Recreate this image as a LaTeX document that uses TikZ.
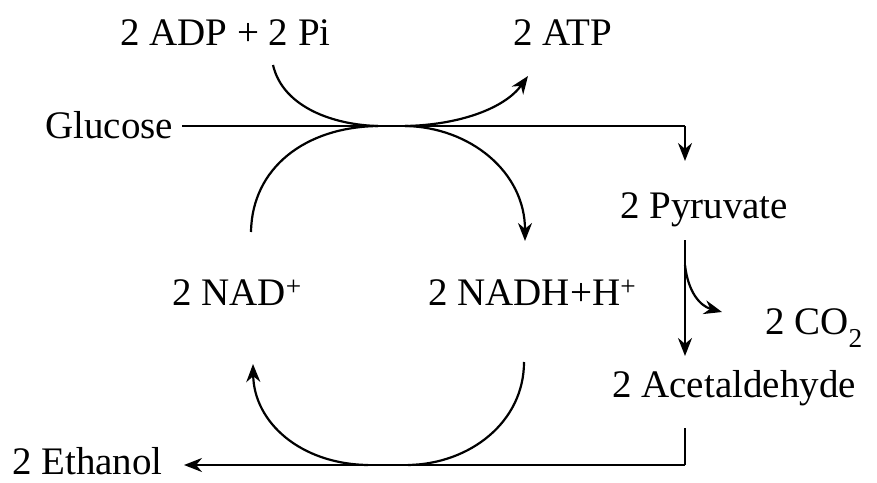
\documentclass[tikz,border=0pt]{standalone}
\usepackage{fontspec}
\setmainfont{Liberation Serif}
\usetikzlibrary{arrows.meta}
\begin{document}
\begin{tikzpicture}[x=1pt,y=-1pt,
  lbl/.style={anchor=base west,inner sep=0pt,font=\fontsize{39}{42}\selectfont},
  ln/.style={line width=2.2pt},
  arr/.style={ln,-{Stealth[length=18pt,width=14pt]}}]
\useasboundingbox (0,0) rectangle (877,482);
% labels
\node[lbl] (adp) at (120,45) {2 ADP + 2 Pi};
\node[lbl] (atp) at (513,45) {2 ATP};
\node[lbl] (glu) at (45,138) {Glucose};
\node[lbl] (pyr) at (620,218) {2 Pyruvate};
\node[lbl] (nad) at (172,305) {2 NAD\textsuperscript{+}};
\node[lbl] (nadh) at (428,305) {2 NADH+H\textsuperscript{+}};
\node[lbl] (co2) at (765,334) {2 CO\raisebox{-4pt}{\textsubscript{2}}};
\node[lbl] (acet) at (612,397) {2 Acetaldehyde};
\node[lbl] (eth) at (12,474) {2 Ethanol};
% coordinates
\coordinate (gstart) at (182,126);
\coordinate (gcorner) at (685,126);
\coordinate (gend) at (685,161);
\coordinate (pstart) at (685,240);
\coordinate (pend) at (685,356);
\coordinate (cstart) at (685,265);
\coordinate (cend) at (722,312);
\coordinate (astart) at (685,428);
\coordinate (acorner) at (685,465);
\coordinate (eend) at (184,465);
\coordinate (t1) at (378,126);
\coordinate (t2) at (405,126);
\coordinate (adps) at (273,65);
\coordinate (atpe) at (528,76);
\coordinate (nadu) at (251,232);
\coordinate (nadhd) at (525,241);
\coordinate (b1) at (368,465);
\coordinate (b2) at (408,465);
\coordinate (nadhu) at (524,362);
\coordinate (nade) at (253,364);
% main line
\draw[ln] (gstart) -- (gcorner);
\draw[arr] (gcorner) -- (gend);
\draw[arr] (pstart) -- (pend);
\draw[arr] (cstart) .. controls (688,292) and (700,306) .. (cend);
\draw[ln] (astart) -- (acorner);
\draw[arr] (acorner) -- (eend);
% ATP crossing
\draw[ln] (adps) .. controls (283,108) and (335,125) .. (t1);
\draw[arr] (t2) .. controls (460,125) and (505,108) .. (atpe);
% NAD crossing top
\draw[ln] (nadu) .. controls (252,168) and (305,127) .. (t1);
\draw[arr] (t2) .. controls (470,127) and (525,172) .. (nadhd);
% bottom
\draw[ln] (nadhu) .. controls (524,422) and (470,464) .. (b2);
\draw[arr] (b1) .. controls (300,464) and (254,422) .. (nade);
\end{tikzpicture}
\end{document}
